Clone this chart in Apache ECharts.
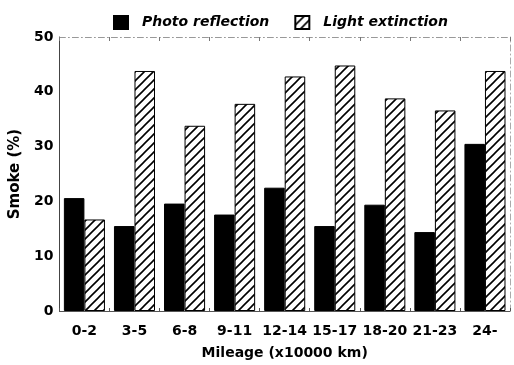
<!DOCTYPE html>
<html>
<head>
<meta charset="utf-8">
<script src="https://cdn.jsdelivr.net/npm/echarts@6/dist/echarts.min.js"></script>
<style>
html,body{margin:0;padding:0;background:#fff;}
#c{width:514px;height:365px;}
</style>
</head>
<body>
<div id="c"></div>
<script>
var categories = ['0-2','3-5','6-8','9-11','12-14','15-17','18-20','21-23','24-'];
var photoReflection = [20.6, 15.5, 19.6, 17.6, 22.5, 15.5, 19.4, 14.4, 30.5];
var lightExtinction = [16.7, 43.8, 33.8, 37.8, 42.8, 44.8, 38.8, 36.6, 43.8];
var yTicks = [0, 10, 20, 30, 40, 50];

function hatch() {
  var s = 9;
  var c = document.createElement('canvas');
  c.width = s; c.height = s;
  var g = c.getContext('2d');
  g.fillStyle = '#fff';
  g.fillRect(0, 0, s, s);
  g.strokeStyle = '#000';
  g.lineWidth = 1.6;
  g.beginPath();
  g.moveTo(-1, s + 1); g.lineTo(s + 1, -1);
  g.moveTo(-2, 2); g.lineTo(2, -2);
  g.moveTo(s - 2, s + 2); g.lineTo(s + 2, s - 2);
  g.stroke();
  return c;
}

var font = 'DejaVu Sans';
var chart = echarts.init(document.getElementById('c'));
chart.setOption({
  animation: false,
  backgroundColor: '#fff',
  textStyle: { fontFamily: font },
  legend: {
    left: 108, top: 10,
    icon: 'rect',
    itemWidth: 14, itemHeight: 13, itemGap: 25,
    textStyle: { fontFamily: font, fontWeight: 'bold', fontStyle: 'italic', fontSize: 14, color: '#000', padding: [0, 0, 0, 9] },
    data: ['Photo reflection', 'Light extinction']
  },
  grid: { left: 58, right: 4, top: 37, bottom: 52, containLabel: false },
  xAxis: [{
    type: 'category',
    data: categories,
    position: 'bottom',
    name: 'Mileage (x10000 km)',
    nameLocation: 'middle',
    nameGap: 35,
    nameTextStyle: { fontFamily: font, fontWeight: 'bold', fontSize: 14, color: '#000' },
    axisLine: { onZero: false, lineStyle: { color: '#555', width: 1 } },
    axisTick: { show: true, inside: true, length: 3, lineStyle: { color: '#555' } },
    axisLabel: { fontFamily: font, fontWeight: 'bold', fontSize: 14, color: '#000', margin: 13, interval: 0 }
  }, {
    type: 'category',
    data: categories,
    position: 'top',
    axisLine: { show: true, onZero: false, lineStyle: { color: '#999', width: 1, type: [6, 3, 1, 3] } },
    axisTick: { show: true, inside: true, length: 4, lineStyle: { color: '#777' } },
    axisLabel: { show: false }
  }],
  yAxis: [{
    type: 'value',
    min: 0, max: 50, interval: 10,
    name: 'Smoke (%)',
    nameLocation: 'middle',
    nameGap: 27,
    nameTextStyle: { fontFamily: font, fontWeight: 'bold', fontSize: 15, color: '#000' },
    axisLine: { show: true, onZero: false, lineStyle: { color: '#444', width: 1 } },
    axisTick: { show: false },
    splitLine: { show: false },
    axisLabel: {
      fontFamily: font, fontWeight: 'bold', fontSize: 14, color: '#000', margin: 6,
      formatter: function (v) { return yTicks.indexOf(v) >= 0 ? String(v) : ''; }
    }
  }, {
    type: 'value',
    min: 0, max: 50, interval: 10,
    position: 'right',
    axisLine: { show: true, onZero: false, lineStyle: { color: '#aaa', width: 1, type: [6, 3, 1, 3] } },
    axisTick: { show: false },
    splitLine: { show: false },
    axisLabel: { show: false }
  }],
  series: [{
    name: 'Photo reflection',
    type: 'bar',
    data: photoReflection,
    barGap: '0%',
    barCategoryGap: '18%',
    itemStyle: { color: '#000', borderColor: '#000', borderWidth: 1 }
  }, {
    name: 'Light extinction',
    type: 'bar',
    data: lightExtinction,
    barGap: '0%',
    barCategoryGap: '18%',
    itemStyle: { color: { image: hatch(), repeat: 'repeat' }, borderColor: '#000', borderWidth: 1 }
  }]
});
</script>
</body>
</html>
